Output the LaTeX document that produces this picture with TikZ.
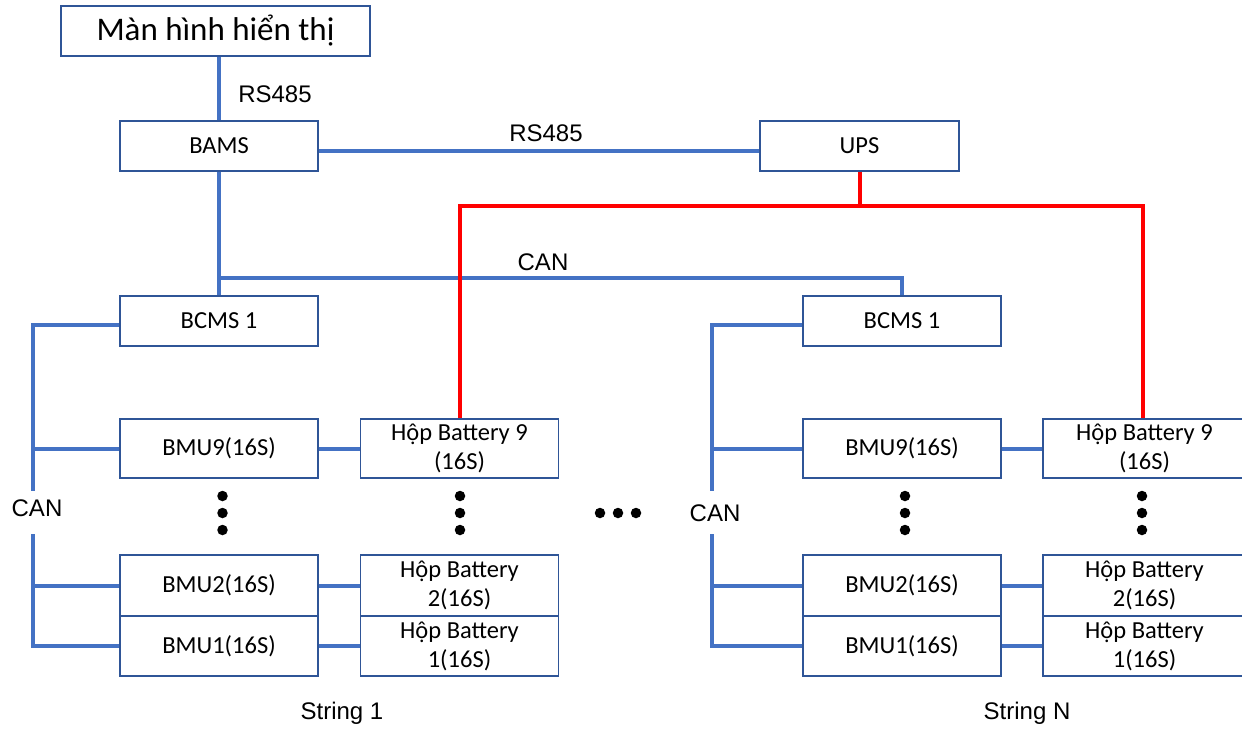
\documentclass[tikz,border=0pt]{standalone}
\usepackage{fontspec}
\setmainfont{Carlito}
\newfontfamily\labelfont{Liberation Sans}
\definecolor{busblue}{HTML}{4472C4}
\definecolor{boxblue}{HTML}{2F5597}
\definecolor{pwrred}{HTML}{FF0000}
\begin{document}
\begin{tikzpicture}[x=1pt,y=-1pt,
  box/.style={draw=boxblue,line width=1.2pt,fill=white,minimum width=198pt,minimum height=50pt,
    inner sep=0pt,align=center,font=\fontsize{24.5}{29}\selectfont},
  tallbox/.style={box,minimum height=59pt},
  edgebox/.style={minimum width=203pt},
  bus/.style={draw=busblue,line width=4pt},
  pwr/.style={draw=pwrred,line width=4pt},
  lbl/.style={font=\labelfont\fontsize{24}{29}\selectfont,inner sep=0pt},
  dotc/.style={circle,fill=black,inner sep=0pt,minimum size=10.5pt}]
\useasboundingbox (0,0) rectangle (1242,729);
% top
\node[box,minimum width=309pt,font=\fontsize{33}{38}\selectfont] (disp) at (215.5,31) {Màn hình hiển thị};
\node[box] (bams) at (219,146) {BAMS};
\node[box,minimum width=199pt] (ups) at (859.5,146) {UPS};
\node[box] (bcmsA) at (219,321) {BCMS 1};
\node[box] (bcmsB) at (902,321) {BCMS 1};
% string 1
\node[tallbox] (bmu9A) at (219,448.5) {BMU9(16S)};
\node[tallbox] (hb9A) at (459.5,448.5) {Hộp Battery 9\\(16S)};
\node[box,minimum height=61pt] (bmu2A) at (219,585.5) {BMU2(16S)};
\node[box,minimum height=61pt] (hb2A) at (459.5,585.5) {Hộp Battery\\2(16S)};
\node[box,minimum height=60pt] (bmu1A) at (219,646) {BMU1(16S)};
\node[box,minimum height=60pt] (hb1A) at (459.5,646) {Hộp Battery\\1(16S)};
% string N
\node[tallbox] (bmu9B) at (902,448.5) {BMU9(16S)};
\node[tallbox,edgebox] (hb9B) at (1144.5,448.5) {Hộp Battery 9\\(16S)};
\node[box,minimum height=61pt] (bmu2B) at (902,585.5) {BMU2(16S)};
\node[box,minimum height=61pt,edgebox] (hb2B) at (1144.5,585.5) {Hộp Battery\\2(16S)};
\node[box,minimum height=60pt] (bmu1B) at (902,646) {BMU1(16S)};
\node[box,minimum height=60pt,edgebox] (hb1B) at (1144.5,646) {Hộp Battery\\1(16S)};
% coordinates
\coordinate (rj) at (859.5,206);
\coordinate (cj) at (219,278);
\coordinate (aTop) at (33,491);
\coordinate (aBot) at (33,534);
\coordinate (bTop) at (712,491);
\coordinate (bBot) at (712,534);
\coordinate (rdrop) at (1142.5,206);
% RS485 links
\draw[bus] (disp.south -| bams.north) -- (bams.north);
\draw[bus] ([yshift=-5pt]bams.east) -- ([yshift=-5pt]ups.west);
% CAN backbone
\draw[bus] (bams.south) -- (bcmsA.north);
\draw[bus] (cj) -| (bcmsB.north);
% string 1 CAN bus
\draw[bus] ([yshift=-4pt]bcmsA.west) -| (aTop);
\draw[bus] (aTop |- bmu9A.west) -- (bmu9A.west);
\draw[bus] (aBot) |- (bmu1A.west);
\draw[bus] (aBot |- bmu2A.west) -- (bmu2A.west);
\draw[bus] (bmu9A.east) -- (hb9A.west);
\draw[bus] (bmu2A.east) -- (hb2A.west);
\draw[bus] (bmu1A.east) -- (hb1A.west);
% string N CAN bus
\draw[bus] ([yshift=-4pt]bcmsB.west) -| (bTop);
\draw[bus] (bTop |- bmu9B.west) -- (bmu9B.west);
\draw[bus] (bBot) |- (bmu1B.west);
\draw[bus] (bBot |- bmu2B.west) -- (bmu2B.west);
\draw[bus] (bmu9B.east) -- (hb9B.west);
\draw[bus] (bmu2B.east) -- (hb2B.west);
\draw[bus] (bmu1B.east) -- (hb1B.west);
% power (red)
\draw[pwr] (ups.south) -- (rj);
\draw[pwr] (hb9A.north) |- (rj) -- (rdrop) -- (rdrop |- hb9B.north);
% labels
\node[lbl] (l1) at (275,94) {RS485};
\node[lbl] (l2) at (546,133) {RS485};
\node[lbl] (l3) at (543,262) {CAN};
\node[lbl] (l4) at (37,508) {CAN};
\node[lbl] (l5) at (715,513) {CAN};
\node[lbl] (s1) at (342,713) {String 1};
\node[lbl] (sN) at (1027,713) {String N};
% dots
\foreach \x/\p in {222.5/a,460/b,905/c,1142/d}{
  \node[dotc] (\p1) at (\x,496) {};
  \node[dotc] (\p2) at (\x,513) {};
  \node[dotc] (\p3) at (\x,530) {};
}
\node[dotc] (m1) at (600,513) {};
\node[dotc] (m2) at (618,513) {};
\node[dotc] (m3) at (636,513) {};
\end{tikzpicture}
\end{document}
